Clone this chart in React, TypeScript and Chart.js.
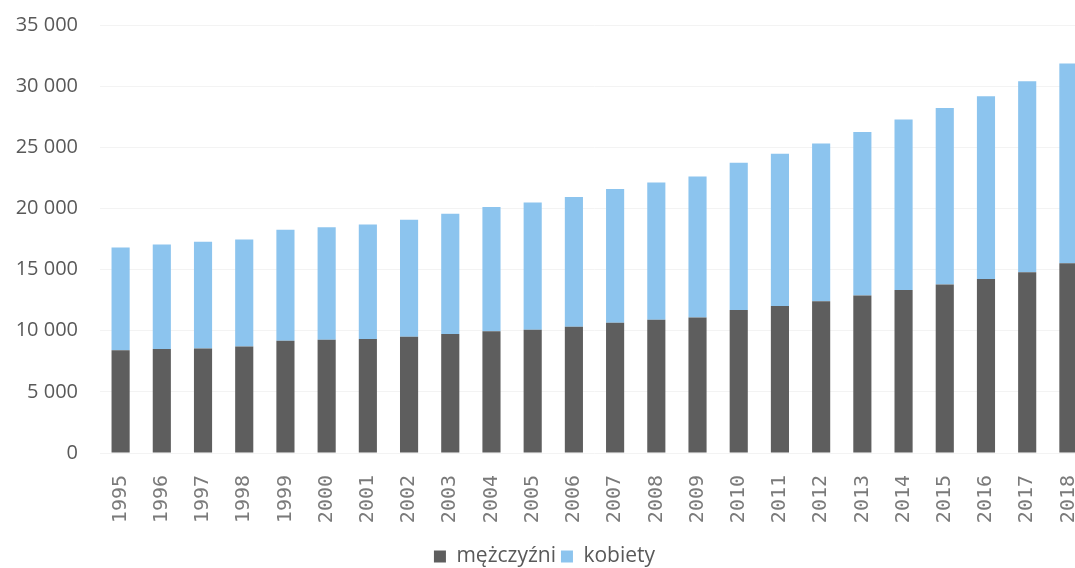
import React, { useEffect, useRef } from "react";
import { Chart, registerables } from "chart.js";

Chart.register(...registerables);

const years = ["1995","1996","1997","1998","1999","2000","2001","2002","2003","2004","2005","2006","2007","2008","2009","2010","2011","2012","2013","2014","2015","2016","2017","2018"];
const mezczyzni = [8400,8500,8550,8710,9180,9260,9320,9510,9730,9950,10080,10330,10660,10900,11090,11700,12020,12400,12870,13330,13770,14230,14780,15520];
const kobiety = [8400,8550,8720,8750,9070,9210,9370,9560,9830,10160,10410,10600,10920,11230,11530,12040,12460,12900,13390,13940,14450,14950,15630,16340];
const yTicksMax = 35000;
const yTickStep = 5000;

function fmt(v: number): string {
  return String(v).replace(/\B(?=(\d{3})+(?!\d))/g, " ");
}

export default function App() {
  const ref = useRef<HTMLCanvasElement | null>(null);
  useEffect(() => {
    document.body.style.margin = "0";
    document.body.style.overflow = "hidden";
    if (!ref.current) return;
    const chart = new Chart(ref.current, {
      type: "bar",
      data: {
        labels: years,
        datasets: [
          { label: "mężczyźni", data: mezczyzni, backgroundColor: "#5e5e5e", barPercentage: 0.44, categoryPercentage: 1 },
          { label: "kobiety", data: kobiety, backgroundColor: "#8cc4ee", barPercentage: 0.44, categoryPercentage: 1 },
        ],
      },
      options: {
        animation: false,
        responsive: false,
        devicePixelRatio: 1,
        layout: { padding: { top: 25, right: 31, left: 0, bottom: -9 } },
        plugins: {
          tooltip: { enabled: false },
          legend: {
            position: "bottom",
            labels: {
              boxWidth: 12,
              boxHeight: 12,
              padding: 5,
              color: "#595959",
              font: { family: "'Open Sans'", size: 21 },
            },
          },
        },
        scales: {
          x: {
            stacked: true,
            grid: { display: false },
            border: { display: false },
            ticks: {
              minRotation: 90,
              maxRotation: 90,
              padding: 14,
              color: "#7a7a7a",
              font: { family: "'DejaVu Sans Mono', monospace", size: 20 },
            },
            afterFit: (s: any) => { s.height = 88; },
          },
          y: {
            stacked: true,
            min: 0,
            max: yTicksMax,
            grid: { color: "#f3f3f3", drawTicks: true, tickLength: 22, tickColor: "rgba(0,0,0,0)" },
            border: { display: false },
            ticks: {
              stepSize: yTickStep,
              padding: 0,
              color: "#595959",
              font: { family: "'Open Sans'", size: 20 },
              callback: (v: any) => fmt(Number(v)),
            },
            afterFit: (s: any) => { s.width = 100; },
          },
        },
      },
    });
    return () => chart.destroy();
  }, []);
  return (
    <div style={{ width: 1075, height: 568, overflow: "hidden" }}>
      <canvas ref={ref} width={1120} height={568} />
    </div>
  );
}
